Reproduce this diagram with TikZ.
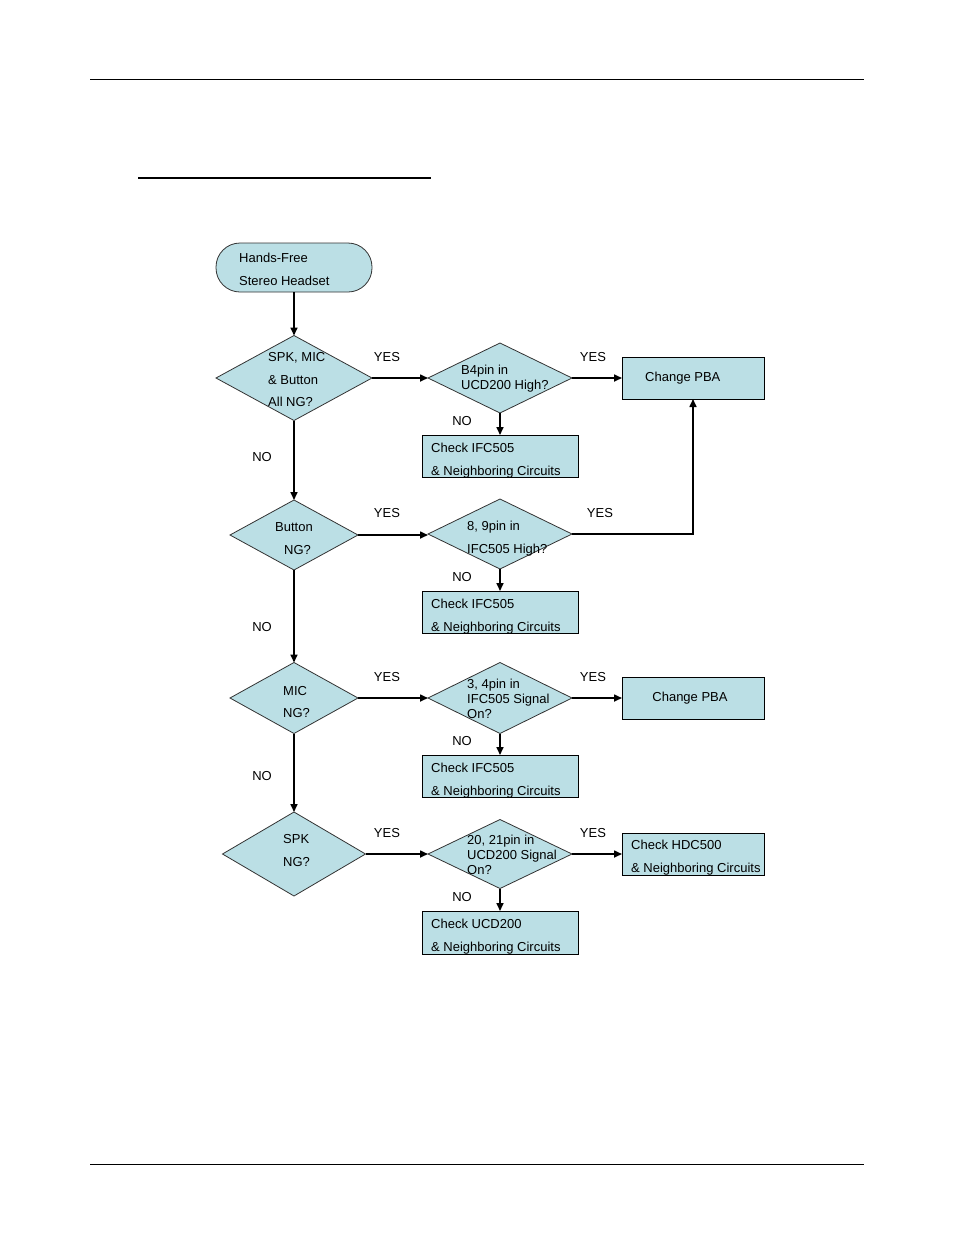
\documentclass[tikz,border=0pt]{standalone}
\usepackage{fontspec}
\setmainfont{Liberation Sans}
\usetikzlibrary{shapes.geometric,arrows.meta}
\definecolor{boxfill}{RGB}{187,223,229}
\tikzset{
  every node/.style={font=\fontsize{13}{15}\selectfont},
  dec/.style={diamond,draw=black!80,line width=0.8pt,fill=boxfill,inner sep=0pt,outer sep=0pt},
  actbox/.style={rectangle,draw=black,line width=0.8pt,fill=boxfill,inner sep=0pt,outer sep=0pt},
  txt/.style={anchor=west,align=left,inner sep=0pt,yshift=-1.5pt},
  flow/.style={line width=1.6pt,-{Triangle[length=8pt,width=7pt]}},
  lbl/.style={inner sep=0pt,yshift=-1pt}
}
\begin{document}
\begin{tikzpicture}[x=1pt,y=-1pt]
\useasboundingbox (0,0) rectangle (954,1235);
% page rules
\draw[line width=0.9pt] (90,79) -- (864,79);
\draw[line width=0.9pt] (90,1164) -- (864,1164);
\draw[line width=1.2pt] (138,178) -- (431,178);

% start
\node[rectangle,rounded corners=24pt,draw=black!80,line width=0.8pt,fill=boxfill,minimum width=156pt,minimum height=49pt,inner sep=0pt] (start) at (294,267.5) {};
\node[txt,font=\fontsize{13}{23}\selectfont] (startt) at (239,267.5) {Hands-Free\\Stereo Headset};

% diamonds
\node[dec,minimum width=156pt,minimum height=85pt] (d1) at (294,378) {};
\node[txt,font=\fontsize{13}{22.5}\selectfont] (d1t) at (268,378.5) {SPK, MIC\\\& Button\\All NG?};
\node[dec,minimum width=144pt,minimum height=70pt] (d2) at (500,378) {};
\node[txt,font=\fontsize{13}{15}\selectfont] (d2t) at (461,377.5) {B4pin in\\UCD200 High?};
\node[dec,minimum width=128pt,minimum height=70pt] (d3) at (294,535) {};
\node[txt,font=\fontsize{13}{23}\selectfont] (d3t) at (275,537.5) {\hspace*{0pt}Button\\\hspace*{9pt}NG?};
\node[dec,minimum width=144pt,minimum height=70pt] (d4) at (500,534) {};
\node[txt,font=\fontsize{13}{23}\selectfont] (d4t) at (467,537.5) {8, 9pin in\\IFC505 High?};
\node[dec,minimum width=128pt,minimum height=71pt] (d5) at (294,698) {};
\node[txt,font=\fontsize{13}{22}\selectfont] (d5t) at (283,701) {MIC\\NG?};
\node[dec,minimum width=144pt,minimum height=71pt] (d6) at (500,698) {};
\node[txt,font=\fontsize{13}{15}\selectfont] (d6t) at (467,697) {3, 4pin in\\IFC505 Signal\\On?};
\node[dec,minimum width=143pt,minimum height=84pt] (d7) at (294,854) {};
\node[txt,font=\fontsize{13}{23}\selectfont] (d7t) at (283,849.5) {SPK\\NG?};
\node[dec,minimum width=144pt,minimum height=69pt] (d8) at (500,854) {};
\node[txt,font=\fontsize{13}{15}\selectfont] (d8t) at (467,853) {20, 21pin in\\UCD200 Signal\\On?};

% boxes
\node[actbox,minimum width=142pt,minimum height=42pt] (pba1) at (693,378) {};
\node[txt] (pba1t) at (645,377) {Change PBA};
\node[actbox,minimum width=156pt,minimum height=42pt] (ifc1) at (500,456) {};
\node[txt,font=\fontsize{13}{23}\selectfont] (ifc1t) at (431,459.5) {Check IFC505\\\& Neighboring Circuits};
\node[actbox,minimum width=156pt,minimum height=42pt] (ifc2) at (500,612) {};
\node[txt,font=\fontsize{13}{23}\selectfont] (ifc2t) at (431,615.5) {Check IFC505\\\& Neighboring Circuits};
\node[actbox,minimum width=142pt,minimum height=42pt] (pba2) at (693,698) {};
\node[lbl] (pba2t) at (690,697) {Change PBA};
\node[actbox,minimum width=156pt,minimum height=42pt] (ifc3) at (500,776) {};
\node[txt,font=\fontsize{13}{23}\selectfont] (ifc3t) at (431,779) {Check IFC505\\\& Neighboring Circuits};
\node[actbox,minimum width=142pt,minimum height=42pt] (hdc) at (693,854) {};
\node[txt,font=\fontsize{13}{23}\selectfont] (hdct) at (631,856.5) {Check HDC500\\\& Neighboring Circuits};
\node[actbox,minimum width=156pt,minimum height=43pt] (ucd) at (500,932.5) {};
\node[txt,font=\fontsize{13}{23}\selectfont] (ucdt) at (431,935.5) {Check UCD200\\\& Neighboring Circuits};

% connectors
\draw[flow] (start.south) -- (d1.north);
\draw[flow] (d1.east) -- (d2.west);
\draw[flow] (d2.east) -- (pba1.west);
\draw[flow] (d2.south) -- (ifc1.north);
\draw[flow] (d1.south) -- (d3.north);
\draw[flow] (d3.east) -- (d4.west |- d3.east);
\draw[flow] (d4.east) -| (pba1.south);
\draw[flow] (d4.south) -- (ifc2.north);
\draw[flow] (d3.south) -- (d5.north);
\draw[flow] (d5.east) -- (d6.west);
\draw[flow] (d6.east) -- (pba2.west);
\draw[flow] (d6.south) -- (ifc3.north);
\draw[flow] (d5.south) -- (d7.north);
\draw[flow] (d7.east) -- (d8.west);
\draw[flow] (d8.east) -- (hdc.west);
\draw[flow] (d8.south) -- (ucd.north);

% labels
\node[lbl] (y1) at (387,356) {YES};
\node[lbl] (y2) at (593,356) {YES};
\node[lbl] (y3) at (387,512) {YES};
\node[lbl] (y4) at (600,512) {YES};
\node[lbl] (y5) at (387,676) {YES};
\node[lbl] (y6) at (593,676) {YES};
\node[lbl] (y7) at (387,832) {YES};
\node[lbl] (y8) at (593,832) {YES};
\node[lbl] (n1) at (462,420) {NO};
\node[lbl] (n2) at (262,456) {NO};
\node[lbl] (n3) at (462,576) {NO};
\node[lbl] (n4) at (262,626) {NO};
\node[lbl] (n5) at (462,740) {NO};
\node[lbl] (n6) at (262,775) {NO};
\node[lbl] (n7) at (462,896) {NO};
\end{tikzpicture}
\end{document}
